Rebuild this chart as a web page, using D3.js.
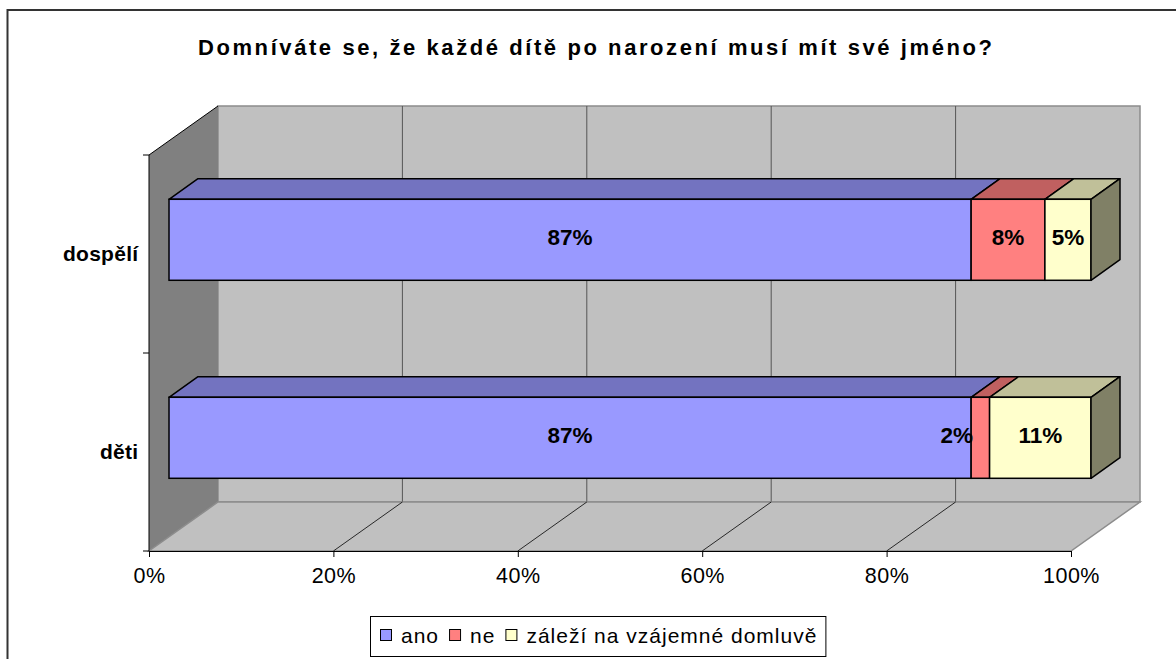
<!DOCTYPE html>
<html>
<head>
<meta charset="utf-8">
<script src="https://cdn.jsdelivr.net/npm/d3@7"></script>
<style>
  body { margin: 0; background: #fff; }
  svg { display: block; font-family: Arial, "Liberation Sans", sans-serif; }
</style>
</head>
<body>
<div id="chart"></div>
<script>
// data
const categories = ["dospělí", "děti"];
const seriesNames = ["ano", "ne", "záleží na vzájemné domluvě"];
const ano = [87, 87];
const ne = [8, 2];
const zalezi = [5, 11];
const xTicks = [0, 20, 40, 60, 80, 100];
const xTickLabels = ["0%", "20%", "40%", "60%", "80%", "100%"];
const title = "Domníváte se, že každé dítě po narození musí mít své jméno?";

const colors = ["#9999ff", "#ff8080", "#ffffcc"];

const width = 1176;
const height = 659;

// plot geometry (front plane + 3D depth offset)
const plot = { left: 149, right: 1071, top: 155, bottom: 551 };
const DX = 69, DY = -49;
const z0 = 0.29, z1 = 0.71; // bar depth range
const barH = 81;

const xScale = d3.scaleLinear().domain([0, 100]).range([plot.left, plot.right]);
const yScale = d3.scaleBand().domain(categories).range([plot.top, plot.bottom]);

const rows = categories.map((c, i) => ({
  cat: c,
  [seriesNames[0]]: ano[i],
  [seriesNames[1]]: ne[i],
  [seriesNames[2]]: zalezi[i],
}));
const stacked = d3.stack().keys(seriesNames)(rows);

const svg = d3
  .select("#chart")
  .append("svg")
  .attr("width", width)
  .attr("height", height);

// outer frame (runs off the right/bottom edge like the source)
svg
  .append("rect")
  .attr("x", 7.5)
  .attr("y", 10)
  .attr("width", width + 20)
  .attr("height", height + 20)
  .attr("fill", "#fff")
  .attr("stroke", "#333")
  .attr("stroke-width", 2);

// title
svg
  .append("text")
  .attr("x", 198)
  .attr("y", 55)
  .attr("textLength", 794)
  .attr("lengthAdjust", "spacing")
  .style("font-size", "22px")
  .style("font-weight", "bold")
  .text(title);

const pt = (x, y, z) => [x + z * DX, y + z * DY];
const poly = (pts) => pts.map((p) => p.join(",")).join(" ");

// back wall
svg
  .append("rect")
  .attr("x", plot.left + DX)
  .attr("y", plot.top + DY)
  .attr("width", plot.right - plot.left)
  .attr("height", plot.bottom - plot.top)
  .attr("fill", "#c0c0c0")
  .attr("stroke", "#8c8c8c")
  .attr("stroke-width", 1.5);

svg
  .append("g")
  .selectAll("line")
  .data(xTicks.slice(1, -1))
  .join("line")
  .attr("x1", (d) => xScale(d) + DX)
  .attr("x2", (d) => xScale(d) + DX)
  .attr("y1", plot.top + DY)
  .attr("y2", plot.bottom + DY)
  .attr("stroke", "#555")
  .attr("stroke-width", 1);

// left wall
svg
  .append("polygon")
  .attr(
    "points",
    poly([
      pt(plot.left, plot.top, 0),
      pt(plot.left, plot.top, 1),
      pt(plot.left, plot.bottom, 1),
      pt(plot.left, plot.bottom, 0),
    ])
  )
  .attr("fill", "#808080")
  .attr("stroke", "none");
svg
  .append("line")
  .attr("x1", plot.left)
  .attr("y1", plot.top)
  .attr("x2", plot.left + DX)
  .attr("y2", plot.top + DY)
  .attr("stroke", "#000")
  .attr("stroke-width", 1);

// floor
svg
  .append("polygon")
  .attr(
    "points",
    poly([
      pt(plot.left, plot.bottom, 0),
      pt(plot.right, plot.bottom, 0),
      pt(plot.right, plot.bottom, 1),
      pt(plot.left, plot.bottom, 1),
    ])
  )
  .attr("fill", "#c0c0c0")
  .attr("stroke", "#8c8c8c")
  .attr("stroke-width", 1.5);

svg
  .append("g")
  .selectAll("line")
  .data(xTicks.slice(1, -1))
  .join("line")
  .attr("x1", (d) => xScale(d))
  .attr("y1", plot.bottom)
  .attr("x2", (d) => xScale(d) + DX)
  .attr("y2", plot.bottom + DY)
  .attr("stroke", "#000")
  .attr("stroke-width", 0.8);

// left axis line with ticks at band edges
const yAxis = svg.append("g");
yAxis
  .append("line")
  .attr("x1", plot.left)
  .attr("x2", plot.left)
  .attr("y1", plot.top)
  .attr("y2", plot.bottom)
  .attr("stroke", "#000");
yAxis
  .selectAll("line.tick")
  .data([plot.top, ...categories.map((c) => yScale(c) + yScale.bandwidth())])
  .join("line")
  .attr("class", "tick")
  .attr("x1", plot.left - 6)
  .attr("x2", plot.left)
  .attr("y1", (d) => d)
  .attr("y2", (d) => d)
  .attr("stroke", "#000");
yAxis
  .selectAll("text")
  .data(categories)
  .join("text")
  .attr("x", 138.5)
  .attr("y", (d) => yScale(d) + yScale.bandwidth() / 2 + 7)
  .attr("text-anchor", "end")
  .style("font-size", "21px")
  .style("font-weight", "bold")
  .style("letter-spacing", "0.3px")
  .text((d) => d);

// bottom axis
const xAxis = svg
  .append("g")
  .attr("transform", `translate(0, ${plot.bottom})`)
  .call(
    d3
      .axisBottom(xScale)
      .tickValues(xTicks)
      .tickFormat((d, i) => xTickLabels[i])
      .tickSize(6)
      .tickSizeOuter(0)
      .tickPadding(11)
  );
xAxis.attr("font-family", null).attr("font-size", null);
xAxis.selectAll("text").style("font-size", "21.5px").style("letter-spacing", "0.5px").attr("fill", "#000");
xAxis.select(".domain").attr("stroke", "#000");
xAxis.selectAll(".tick line").attr("stroke", "#000");

// bars
const shade = (c, k) => d3.rgb(c).darker(k).formatHex();
const bars = svg.append("g");
categories.forEach((cat, ci) => {
  const yc = yScale(cat) + yScale.bandwidth() / 2;
  const yt = yc - barH / 2;
  const yb = yc + barH / 2;
  const g = bars.append("g");
  stacked.forEach((s, si) => {
    const d = s[ci];
    const xa = xScale(d[0]);
    const xb = xScale(d[1]);
    // top face
    g.append("polygon")
      .attr("points", poly([pt(xa, yt, z0), pt(xa, yt, z1), pt(xb, yt, z1), pt(xb, yt, z0)]))
      .attr("fill", shade(colors[si], 0.8))
      .attr("stroke", "#000")
      .attr("stroke-width", 1.5)
      .attr("stroke-linejoin", "round");
    // front face
    const [fx, fy] = pt(xa, yt, z0);
    g.append("rect")
      .attr("x", fx)
      .attr("y", fy)
      .attr("width", xb - xa)
      .attr("height", barH)
      .attr("fill", colors[si])
      .attr("stroke", "#000")
      .attr("stroke-width", 1.5);
    // right side only on the last segment
    if (si === stacked.length - 1) {
      g.append("polygon")
        .attr("points", poly([pt(xb, yt, z0), pt(xb, yt, z1), pt(xb, yb, z1), pt(xb, yb, z0)]))
        .attr("fill", shade(colors[si], 1.94))
        .attr("stroke", "#000")
        .attr("stroke-width", 1.5)
        .attr("stroke-linejoin", "round");
    }
  });
  // value labels
  stacked.forEach((s, si) => {
    const d = s[ci];
    const v = d[1] - d[0];
    const xa = xScale(d[0]) + z0 * DX;
    const xb = xScale(d[1]) + z0 * DX;
    const narrow = xb - xa < 30;
    g.append("text")
      .attr("x", narrow ? xa + 2 : (xa + xb) / 2)
      .attr("y", yc + z0 * DY + 5.5)
      .attr("text-anchor", narrow ? "end" : "middle")
      .style("font-size", "22.5px")
      .style("font-weight", "bold")
      .text(v + "%");
  });
});

// legend
const legend = svg.append("g");
const box = legend
  .append("rect")
  .attr("x", 370.5)
  .attr("y", 616.5)
  .attr("height", 40)
  .attr("fill", "#fff")
  .attr("stroke", "#000");
let lx = 380;
seriesNames.forEach((name, i) => {
  legend
    .append("rect")
    .attr("x", lx + 0.5)
    .attr("y", 629.5)
    .attr("width", 11)
    .attr("height", 11)
    .attr("fill", colors[i])
    .attr("stroke", "#000");
  const t = legend
    .append("text")
    .attr("x", lx + 21)
    .attr("y", 643)
    .style("font-size", "21px")
    .style("letter-spacing", "1px")
    .text(name);
  lx = lx + 21 + t.node().getComputedTextLength() + 10;
});
box.attr("width", lx - 370 - 2);
</script>
</body>
</html>
